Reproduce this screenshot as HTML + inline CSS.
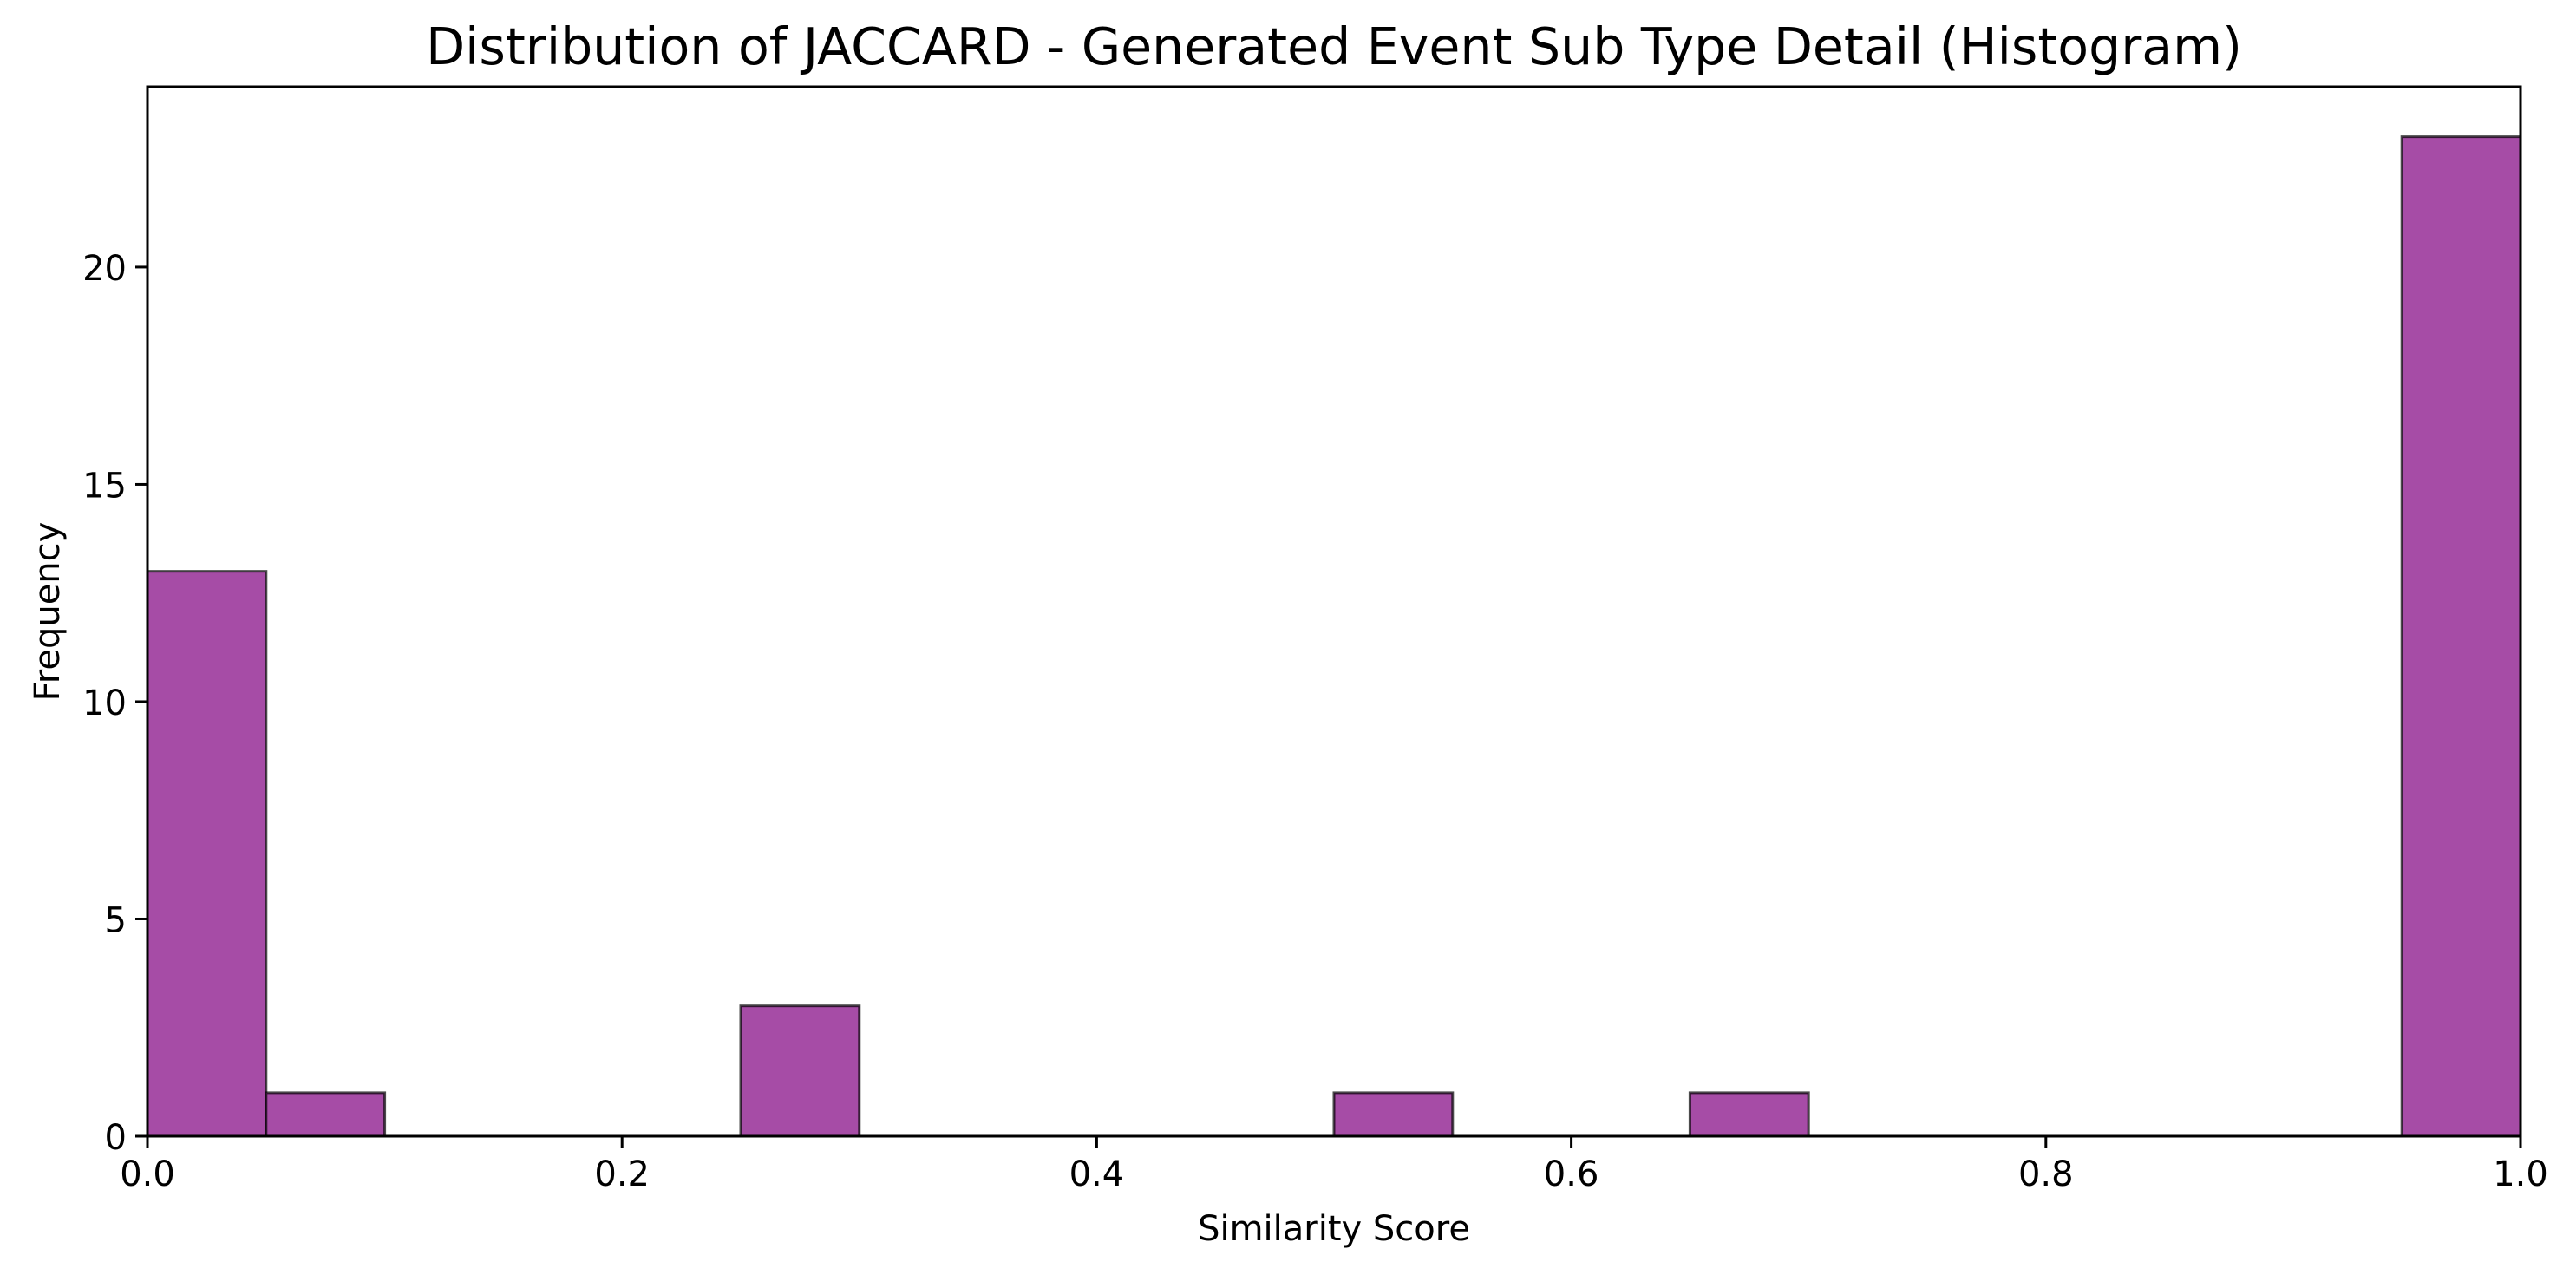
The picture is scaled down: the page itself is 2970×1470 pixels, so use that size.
<!DOCTYPE html>
<html><head><meta charset="utf-8"><style>
html,body{margin:0;padding:0;background:#fff}
svg{display:block}
text{font-family:"DejaVu Sans","Liberation Sans",sans-serif;fill:#000}
</style></head><body>
<svg id="chart" width="2970" height="1470" viewBox="0 0 2970 1470" xmlns="http://www.w3.org/2000/svg">
<rect width="2970" height="1470" fill="#fff"/>
<text x="1538" y="74" font-size="58.5" text-anchor="middle">Distribution of JACCARD - Generated Event Sub Type Detail (Histogram)</text>
<g id="bars"></g>
<g id="axes"></g>
<text x="1538" y="1430" font-size="40" text-anchor="middle">Similarity Score</text>
<text x="0" y="0" font-size="40" text-anchor="middle" transform="translate(68,705) rotate(-90)">Frequency</text>
</svg>
<script>
const binEdges = [0,0.05,0.1,0.15,0.2,0.25,0.3,0.35,0.4,0.45,0.5,0.55,0.6,0.65,0.7,0.75,0.8,0.85,0.9,0.95,1.0];
const counts = [13,1,0,0,0,3,0,0,0,0,1,0,0,1,0,0,0,0,0,23];
const xTicks = [0,0.2,0.4,0.6,0.8,1.0];
const xTickLabels = ["0.0","0.2","0.4","0.6","0.8","1.0"];
const yTicks = [0,5,10,15,20];
const yTickLabels = ["0","5","10","15","20"];

const L=170,R=2906,T=100,B=1310;
const yMax = 24.15;
const xs = v => L + v*(R-L);
const ys = v => B - v/yMax*(B-T);
const NS="http://www.w3.org/2000/svg";
const bars=document.getElementById('bars'), axes=document.getElementById('axes');

counts.forEach((c,i)=>{
  if(c<=0) return;
  const r=document.createElementNS(NS,'rect');
  const x0=xs(binEdges[i]), x1=xs(binEdges[i+1]);
  r.setAttribute('x',x0); r.setAttribute('y',ys(c));
  r.setAttribute('width',x1-x0); r.setAttribute('height',ys(0)-ys(c));
  r.setAttribute('fill','#a64ca6'); r.setAttribute('stroke','rgba(0,0,0,0.7)'); r.setAttribute('stroke-width','3');
  
  
  bars.appendChild(r);
});

const frame=document.createElementNS(NS,'rect');
frame.setAttribute('x',L); frame.setAttribute('y',T); frame.setAttribute('width',R-L); frame.setAttribute('height',B-T);
frame.setAttribute('fill','none'); frame.setAttribute('stroke','#000'); frame.setAttribute('stroke-width','3');


axes.appendChild(frame);

xTicks.forEach((v,i)=>{
  const l=document.createElementNS(NS,'line');
  l.setAttribute('x1',xs(v)); l.setAttribute('x2',xs(v)); l.setAttribute('y1',B); l.setAttribute('y2',B+14);
  l.setAttribute('stroke','#000'); l.setAttribute('stroke-width','3');
  
  
  axes.appendChild(l);
  const t=document.createElementNS(NS,'text');
  t.setAttribute('x',xs(v)); t.setAttribute('y',B+57); t.setAttribute('font-size','40'); t.setAttribute('text-anchor','middle');
  t.textContent=xTickLabels[i];
  
  
  axes.appendChild(t);
});
yTicks.forEach((v,i)=>{
  const l=document.createElementNS(NS,'line');
  l.setAttribute('x1',L-14); l.setAttribute('x2',L); l.setAttribute('y1',ys(v)); l.setAttribute('y2',ys(v));
  l.setAttribute('stroke','#000'); l.setAttribute('stroke-width','3');
  
  
  axes.appendChild(l);
  const t=document.createElementNS(NS,'text');
  t.setAttribute('x',L-24); t.setAttribute('y',ys(v)+15); t.setAttribute('font-size','40'); t.setAttribute('text-anchor','end');
  t.textContent=yTickLabels[i];
  
  
  axes.appendChild(t);
});
</script>
</body></html>
